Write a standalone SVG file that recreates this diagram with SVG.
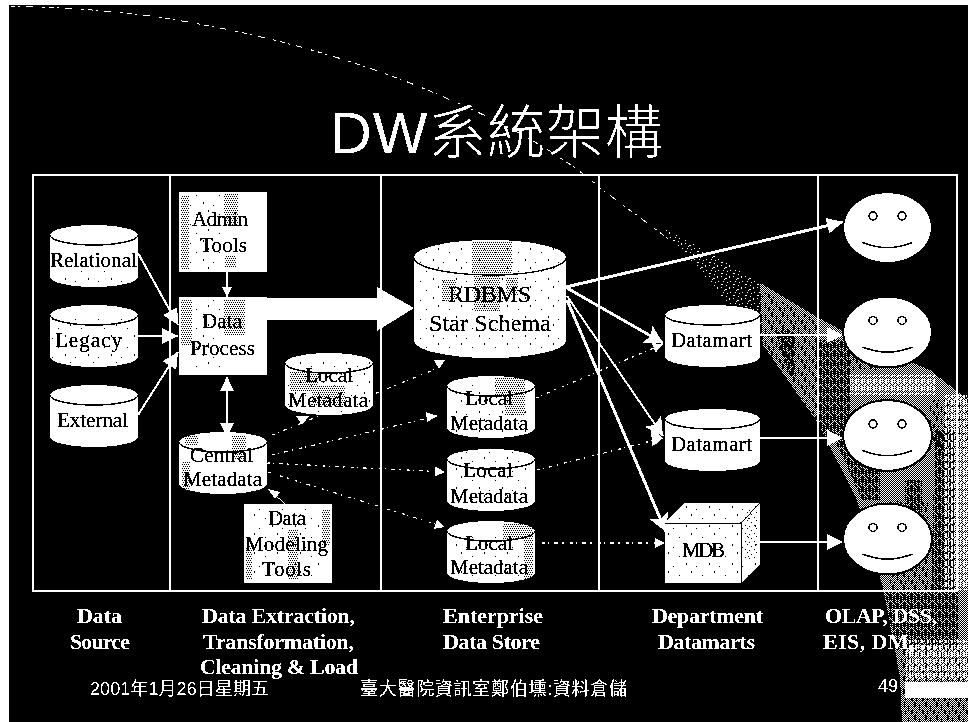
<svg xmlns="http://www.w3.org/2000/svg" width="968" height="722" viewBox="0 0 968 722">
<style>
text{fill:#000;stroke:#000;stroke-width:.25;font-family:"Liberation Serif","Times New Roman",serif;font-size:21px}
.b{fill:#fff;stroke:none;font-weight:bold;font-size:22px}
.f{fill:#fff;stroke:none;font-family:"Liberation Sans","Noto Sans CJK TC",sans-serif;font-size:18px}
.t{fill:#fff;stroke:none;font-family:"Liberation Sans","Noto Sans CJK TC",sans-serif;font-size:58px;font-weight:300}
.body{fill:#fff}
.edge{fill:none;stroke:#000;stroke-width:1.5}
.frame{fill:none;stroke:#e8e8e8;stroke-width:1.5}
.c{fill:none;stroke:#fff}
.d{fill:none;stroke:#fff;stroke-width:1.2;stroke-dasharray:3 3 1 5 4 4 2 6}
.h{shape-rendering:crispEdges}
</style>
<defs>
<filter id="bw" filterUnits="userSpaceOnUse" x="0" y="0" width="968" height="722" color-interpolation-filters="sRGB">
<feComponentTransfer><feFuncR type="discrete" tableValues="0 1"/><feFuncG type="discrete" tableValues="0 1"/><feFuncB type="discrete" tableValues="0 1"/></feComponentTransfer>
</filter>
<pattern id="checker" width="2" height="2" patternUnits="userSpaceOnUse"><rect width="2" height="2" fill="#000"/><rect width="1" height="1" fill="#fff"/><rect x="1" y="1" width="1" height="1" fill="#fff"/></pattern>
<pattern id="sparse" width="12" height="11" patternUnits="userSpaceOnUse"><rect width="12" height="11" fill="#000"/><path fill="#fff" d="M1 1h1v1H1zM5 3h2v1H5zM9 1h1v2H9zM3 6h1v1H3zM7 7h1v1H7zM10 6h1v1h-1zM1 9h2v1H1zM6 10h1v1H6zM4 4h1v1H4z"/></pattern>
<pattern id="streak" width="7" height="9" patternUnits="userSpaceOnUse"><path fill="#000" d="M0 0h3v6H0zM4 2h2v7H4zM1 7h1v2H1zM6 0h1v1H6z"/></pattern>
<pattern id="noise" width="11" height="13" patternUnits="userSpaceOnUse"><path fill="#000" d="M1 0h2v5H1zM6 3h1v6H6zM9 8h2v4H9zM3 9h1v3H3z"/></pattern>
<pattern id="bright" width="6" height="7" patternUnits="userSpaceOnUse"><path fill="#fff" d="M0 0h1v5H0zM3 1h2v5H3zM1 6h1v1H1z"/></pattern>
<pattern id="ink" width="9" height="8" patternUnits="userSpaceOnUse"><path fill="#000" d="M0 0h1v1H0zM4 2h1v1H4zM7 5h1v1H7zM2 6h1v1H2z"/></pattern>
<pattern id="ink2" width="4" height="4" patternUnits="userSpaceOnUse"><path fill="#000" d="M0 0h1v1H0zM2 0h1v1H2zM1 2h1v1H1zM3 2h1v1H3z"/></pattern>
<pattern id="ink3" width="23" height="19" patternUnits="userSpaceOnUse"><path fill="#000" d="M1 1h1v2H1zM12 5h1v1H12zM19 12h1v2h-1zM6 15h1v1H6z"/></pattern>
<path id="cyl" d="M0 10A44 10 0 0 1 88 10V52A44 10 0 0 1 0 52Z"/>
<path id="cyledge" d="M0 10A44 10 0 0 0 88 10"/>
<path id="cylm" d="M0 10A47.500 10 0 0 1 95 10V52A47.500 10 0 0 1 0 52Z"/>
<path id="cylmedge" d="M0 10A47.500 10 0 0 0 95 10"/>
<g id="smile"><ellipse rx="44.500" ry="35.500" fill="#fff" stroke="#000" stroke-width="2"/><circle cx="-14.500" cy="-11.500" r="4" fill="#fff" stroke="#000" stroke-width="1.500"/><circle cx="14.500" cy="-11.500" r="4" fill="#fff" stroke="#000" stroke-width="1.500"/><path d="M-25 15Q0 25 25 15" fill="none" stroke="#000" stroke-width="1.500"/></g>
<marker id="a16" markerUnits="userSpaceOnUse" markerWidth="16" markerHeight="16" refX="16" refY="8" orient="auto"><path d="M0 0L16 8L0 16Z" fill="#fff"/></marker>
<marker id="a20" markerUnits="userSpaceOnUse" markerWidth="18" markerHeight="20" refX="18" refY="10" orient="auto"><path d="M0 0L18 10L0 20L4 10Z" fill="#fff"/></marker>
<marker id="a14" markerUnits="userSpaceOnUse" markerWidth="14" markerHeight="14" refX="14" refY="7" orient="auto"><path d="M0 0L14 7L0 14Z" fill="#fff"/></marker>
<marker id="a9" markerUnits="userSpaceOnUse" markerWidth="10" markerHeight="10" refX="10" refY="5" orient="auto"><path d="M0 0L10 5L0 10Z" fill="#fff"/></marker>
<marker id="a14s" markerUnits="userSpaceOnUse" markerWidth="14" markerHeight="14" refX="0" refY="7" orient="auto"><path d="M14 0L0 7L14 14Z" fill="#fff"/></marker>
</defs>
<g filter="url(#bw)">
<rect width="968" height="722" fill="#fff"/>
<rect x="9" y="5" width="959" height="717" fill="#000"/>

<g id="beam" class="h">
<path d="M10 6Q90 8 150 16C260 32 360 60 446 98C510 125 570 160 600 188L670 240" fill="none" stroke="#ddd" stroke-width="1" stroke-dasharray="5 3 2 6 7 9 3 4"/>
<path fill="url(#sparse)" d="M660 226L700 248L760 283L763 345L700 270Z"/>
<path fill="url(#checker)" d="M760 283L817 317L860 340L930 370L968 400V722H902L900 677L883 587L857 500L818 423L763 345Z"/>
<path fill="url(#noise)" d="M762 290L817 320V420L764 345ZM850 340H880V370H850ZM930 400H968V450H930ZM890 500H930V590H890ZM900 650H968V722H905Z"/>
<path fill="url(#streak)" d="M775 330H795V375H790ZM815 340H850V450H880V500H862L835 440H820ZM935 430H958V650H930ZM885 590H945V650H895ZM905 480H922V530H905Z"/>
<path fill="url(#bright)" d="M850 375H935V395H850ZM945 395H968V590H945ZM905 640H968V680H905Z"/>
<rect x="905" y="682" width="63" height="16" fill="#fff"/>
</g>

<g id="frame">
<rect class="frame" x="33" y="175" width="924" height="416"/>
<path class="frame" d="M170 175V591M381 175V591M599 175V591M818 175V591"/>
</g>

<g id="connectors">
<path class="c" stroke-width="2" marker-end="url(#a16)" d="M138 253L178 325"/>
<path class="c" stroke-width="2" marker-end="url(#a16)" d="M137 336H178"/>
<path class="c" stroke-width="2" marker-end="url(#a16)" d="M138 415L178 352"/>
<path class="c" stroke-width="1.500" marker-end="url(#a9)" d="M227 272V297"/>
<path class="c" stroke-width="3" marker-start="url(#a14s)" marker-end="url(#a14)" d="M227 377V437"/>
<path fill="#fff" d="M267 298H377V287L414 308L377 331V320H267Z"/>
<path class="c" stroke-width="3" marker-end="url(#a16)" d="M566 287L843 222"/>
<path class="c" stroke-width="3" marker-end="url(#a20)" d="M567 288L663 343"/>
<path class="c" stroke-width="2" marker-end="url(#a20)" d="M567 296L663 436"/>
<path class="c" stroke-width="3" marker-end="url(#a20)" d="M567 300L666 532"/>
<path class="c" stroke-width="2.500" marker-end="url(#a16)" d="M760 335H843"/>
<path class="c" stroke-width="2" marker-end="url(#a16)" d="M760 438H843"/>
<path class="c" stroke-width="2" marker-end="url(#a16)" d="M760 542H843"/>
<path class="d" d="M272 435L436 369"/>
<path class="d" d="M272 455L437 416"/>
<path class="d" marker-end="url(#a9)" d="M267 463L445 472"/>
<path class="d" marker-end="url(#a9)" d="M268 472L445 527"/>
<path class="d" marker-end="url(#a9)" d="M536 398L663 344"/>
<path class="d" marker-end="url(#a9)" d="M537 470L663 438"/>
<path class="d" marker-end="url(#a9)" d="M542 543H665"/>
<path fill="#fff" d="M296 416H309L302 425ZM434 360H445L439 369ZM426 412L437 416L427 422ZM651 428L663 438L652 446Z"/>
<path class="c" stroke-width="1" d="M285 504L273 493"/>
<path fill="#fff" d="M268 489L280 492L275 499Z"/>
</g>

<g id="relational"><use href="#cyl" x="50" y="225" class="body"/><use href="#cyledge" x="50" y="225" class="edge"/><rect x="64" y="270" width="60" height="16" fill="url(#ink3)" class="h"/><text x="50" y="267" textLength="87">Relational</text></g>
<g id="legacy"><use href="#cyl" x="50" y="305" class="body"/><use href="#cyledge" x="50" y="305" class="edge"/><rect x="52" y="318" width="84" height="45" fill="url(#ink3)" class="h"/><text x="55" y="347" textLength="67">Legacy</text></g>
<g id="external"><use href="#cyl" x="50" y="385" class="body"/><use href="#cyledge" x="50" y="385" class="edge"/><text x="57" y="427" textLength="71">External</text></g>

<g id="admin-tools"><rect class="body" x="179" y="192" width="88" height="80"/><path class="h" fill="url(#ink2)" d="M181 195H189V270H181ZM224 194H238V225H224ZM225 255H236V268H225Z"/><path class="h" fill="url(#ink3)" d="M190 195H222V270H190Z"/><text x="192" y="226" textLength="56">Admin</text><text x="200" y="252" textLength="47">Tools</text></g>
<g id="data-process"><rect class="body" x="179" y="297" width="88" height="78"/><path class="h" fill="url(#ink2)" d="M181 300H192V345H181ZM224 300H245V335H224Z"/><path class="h" fill="url(#ink3)" d="M194 300H222V372H194Z"/><text x="202" y="328" textLength="40">Data</text><text x="190" y="355" textLength="65">Process</text></g>
<g id="central-metadata"><use href="#cyl" x="179" y="432" class="body"/><use href="#cyledge" x="179" y="432" class="edge"/><path class="h" fill="url(#ink2)" d="M185 436H198V446H185ZM232 436H246V460H232ZM182 462H190V490H182Z"/><text x="190" y="462" textLength="63">Central</text><text x="183" y="486" textLength="79">Metadata</text></g>
<g id="data-modeling-tools"><rect class="body" x="244" y="504" width="88" height="79"/><path class="h" fill="url(#ink2)" d="M246 545H252V580H246ZM288 530H298V580H288ZM322 510H330V545H322Z"/><path class="h" fill="url(#ink3)" d="M252 508H322V580H252Z"/><text x="268" y="525" textLength="38">Data</text><text x="245" y="551" textLength="83">Modeling</text><text x="262" y="576" textLength="49">Tools</text></g>
<g id="local-metadata-1"><use href="#cyl" x="285" y="353" class="body"/><path class="h" fill="url(#ink2)" d="M290 372H318V392H290ZM312 385H345V405H312Z"/><path class="h" fill="url(#ink3)" d="M288 358H370V412H288Z"/><use href="#cyledge" x="285" y="353" class="edge"/><text x="305" y="382" textLength="48">Local</text><text x="288" y="407" textLength="80">Metadata</text></g>

<g id="rdbms"><path class="body" d="M414 257.500A76 17.500 0 0 1 566 257.500V340.500A76 17.500 0 0 1 414 340.500Z"/><path class="h" fill="url(#ink2)" d="M472 242H512V275H472ZM442 280H456V302H442ZM474 276H500V312H474ZM506 278H518V295H506Z"/><path class="h" fill="url(#ink3)" d="M418 246H562V352H418Z"/><path class="edge" d="M414 257.500A76 17.500 0 0 0 566 257.500"/><text x="448" y="302" textLength="83" style="font-size:24px">RDBMS</text><text x="429" y="331" textLength="122" style="font-size:24px">Star Schema</text></g>
<g id="local-metadata-2"><use href="#cyl" x="447" y="376" class="body"/><path class="h" fill="url(#ink2)" d="M495 378H525V395H495ZM505 395H525V415H505Z"/><path class="h" fill="url(#ink3)" d="M452 385H530V432H452Z"/><use href="#cyledge" x="447" y="376" class="edge"/><text x="465" y="405" textLength="48">Local</text><text x="450" y="430" textLength="78">Metadata</text></g>
<g id="local-metadata-3"><use href="#cyl" x="447" y="449" class="body"/><path class="h" fill="url(#ink3)" d="M452 452H530V505H452Z"/><use href="#cyledge" x="447" y="449" class="edge"/><text x="463" y="477" textLength="50">Local</text><text x="450" y="503" textLength="78">Metadata</text></g>
<g id="local-metadata-4"><use href="#cyl" x="447" y="521" class="body"/><path class="h" fill="url(#ink2)" d="M503 523H533V540H503ZM524 540H533V580H524Z"/><path class="h" fill="url(#ink3)" d="M452 535H522V578H452Z"/><use href="#cyledge" x="447" y="521" class="edge"/><text x="465" y="550" textLength="48">Local</text><text x="450" y="574" textLength="78">Metadata</text></g>

<g id="datamart-1"><use href="#cylm" x="665" y="305" class="body"/><use href="#cylmedge" x="665" y="305" class="edge"/><text x="671" y="347" textLength="81">Datamart</text></g>
<g id="datamart-2"><use href="#cylm" x="665" y="409" class="body"/><use href="#cylmedge" x="665" y="409" class="edge"/><text x="671" y="451" textLength="81">Datamart</text></g>
<g id="mdb"><path class="body" d="M665 523L685 503H760V565L741 583H665Z"/><path class="h" fill="url(#ink3)" d="M667 505H758V580H667Z"/><path class="h" fill="url(#ink)" d="M744 510H758V560H744Z"/><path fill="none" stroke="#000" stroke-width="1" d="M665 523H741V583M741 523L760 503"/><text x="682" y="557" textLength="43">MDB</text></g>

<g id="user-1"><use href="#smile" x="887.500" y="227.500"/></g>
<g id="user-2"><use href="#smile" x="887.500" y="332"/></g>
<g id="user-3"><use href="#smile" x="887.500" y="435.500"/></g>
<g id="user-4"><use href="#smile" x="887.500" y="539"/></g>

<g id="labels">
<text class="t" x="330" y="153" textLength="333">DW系統架構</text>
<text class="b" x="77" y="623" textLength="45">Data</text>
<text class="b" x="70" y="649" textLength="60">Source</text>
<text class="b" x="202" y="623" textLength="153">Data Extraction,</text>
<text class="b" x="203" y="649" textLength="151">Transformation,</text>
<text class="b" x="200" y="674" textLength="158">Cleaning &amp; Load</text>
<text class="b" x="443" y="623" textLength="100">Enterprise</text>
<text class="b" x="443" y="649" textLength="97">Data Store</text>
<text class="b" x="652" y="623" textLength="111">Department</text>
<text class="b" x="658" y="649" textLength="97">Datamarts</text>
<text class="b" x="825" y="623" textLength="112">OLAP, DSS,</text>
<text class="b" x="823" y="649" textLength="115">EIS, DM, ...</text>
<text class="f" x="90" y="695" textLength="179">2001年1月26日星期五</text>
<text class="f" x="360" y="695" textLength="267">臺大醫院資訊室鄭伯壎:資料倉儲</text>
<text class="f" x="878" y="692">49</text>
</g>
</g>
</svg>
